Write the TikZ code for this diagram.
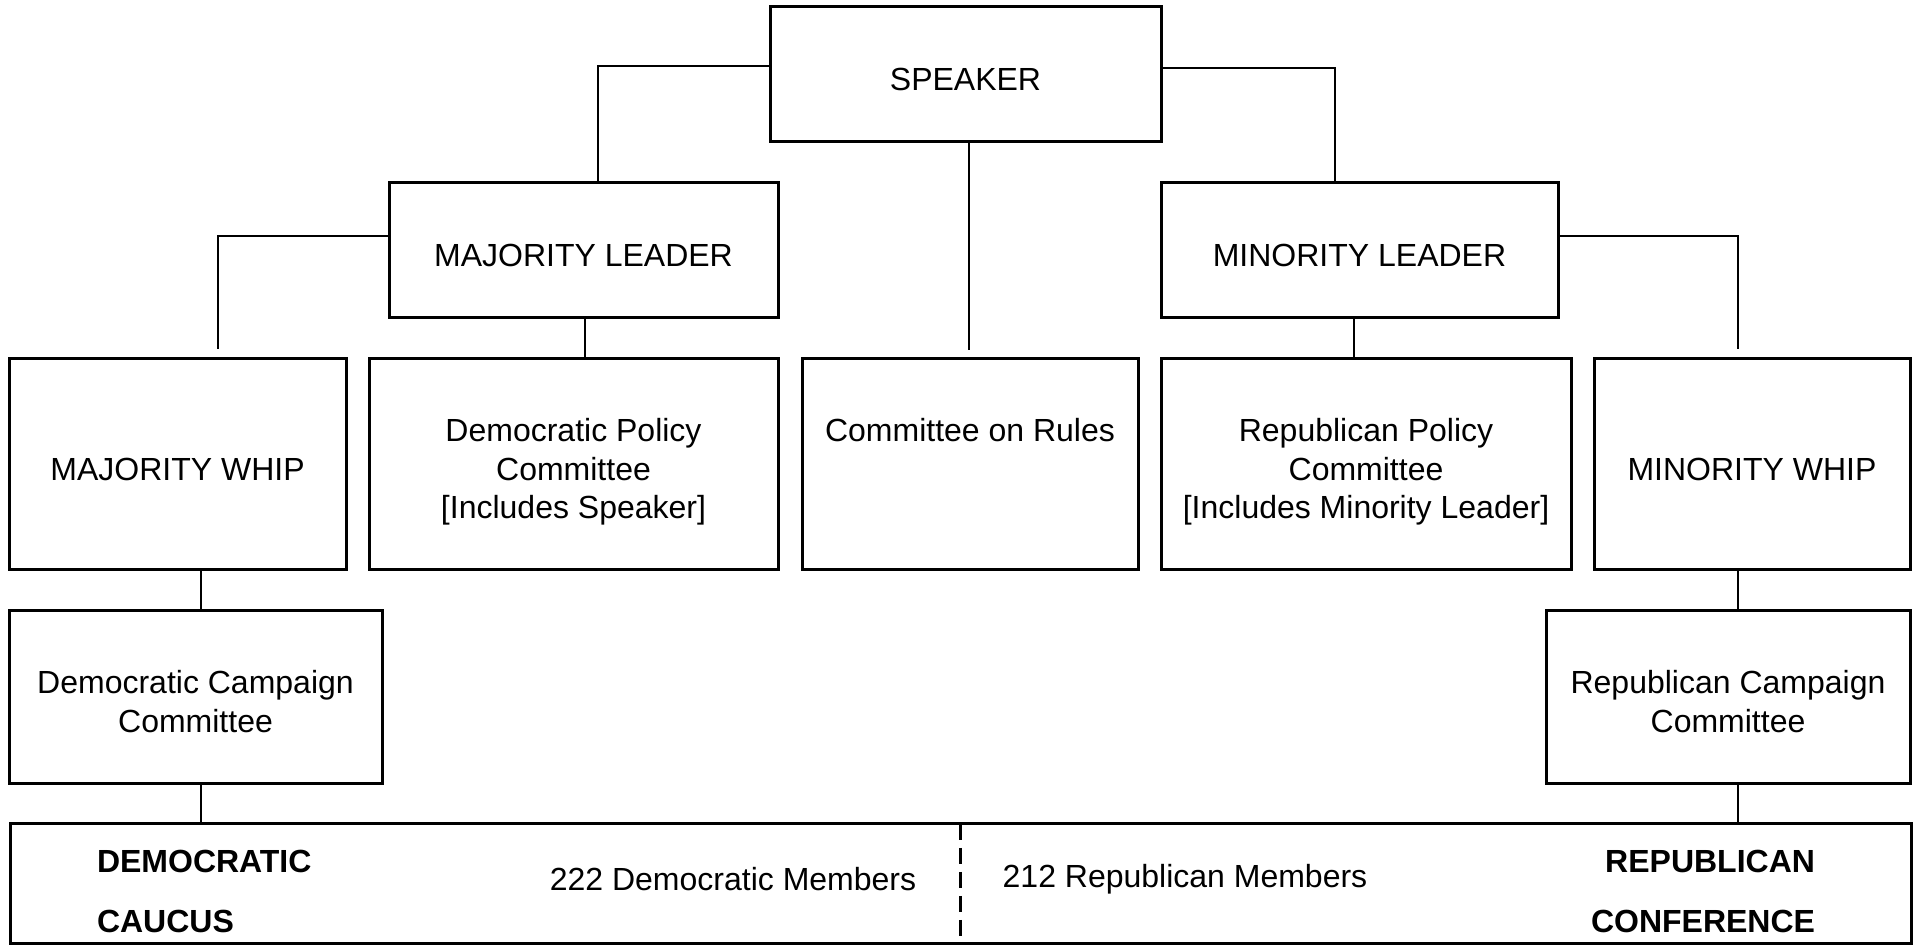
\documentclass[tikz,border=0pt]{standalone}
\usepackage{fontspec}
\setmainfont{Liberation Sans}
\newcommand\tprl{\rule{0pt}{41pt}}
\newcommand\btrl{\rule[-8pt]{0pt}{8pt}}
\begin{document}
\begin{tikzpicture}[x=1pt,y=-1pt,
  box/.style={draw, line width=3pt, inner sep=0pt, outer sep=0pt, align=center,
    font=\fontsize{32pt}{38.5pt}\selectfont},
  conn/.style={line width=2.8pt},
  lbl/.style={inner sep=0pt, outer sep=0pt, font=\fontsize{32pt}{38.5pt}\selectfont},
  blbl/.style={inner sep=0pt, outer sep=0pt, font=\fontsize{32pt}{38.5pt}\selectfont\bfseries}]
\useasboundingbox (0,0) rectangle (1919,945);
\fill[white] (0,0) rectangle (1919,945);

% top
\node[box, minimum width=391pt, minimum height=135pt] (speaker) at (965.5,73.5) {\tprl SPEAKER\btrl};
% leaders
\node[box, minimum width=389pt, minimum height=135pt] (majleader) at (583.5,249.5) {\tprl MAJORITY LEADER\btrl};
\node[box, minimum width=397pt, minimum height=135pt] (minleader) at (1359.5,249.5) {\tprl MINORITY LEADER\btrl};
% second row
\node[box, minimum width=337pt, minimum height=211pt] (majwhip) at (177.5,463.5) {\tprl MAJORITY WHIP\btrl};
\node[box, minimum width=409pt, minimum height=211pt] (dempol) at (573.5,463.5) {\tprl Democratic Policy\\Committee\\{}[Includes Speaker]\btrl};
\node[box, minimum width=336pt, minimum height=211pt] (rules) at (970,463.5) {\tprl Committee on Rules\\\mbox{}\\\mbox{}\btrl};
\node[box, minimum width=410pt, minimum height=211pt] (reppol) at (1366,463.5) {\tprl Republican Policy\\Committee\\{}[Includes Minority Leader]\btrl};
\node[box, minimum width=316pt, minimum height=211pt] (minwhip) at (1752,463.5) {\tprl MINORITY WHIP\btrl};
% campaign committees
\node[box, minimum width=373pt, minimum height=173pt] (demcamp) at (195.5,696.5) {\tprl Democratic Campaign\\Committee\btrl};
\node[box, minimum width=364pt, minimum height=173pt] (repcamp) at (1728,696.5) {\tprl Republican Campaign\\Committee\btrl};
% bottom box
\node[box, minimum width=1901pt, minimum height=119.5pt] (caucus) at (960.5,883.5) {};

\node[blbl, anchor=base west] (demA) at (97,872) {DEMOCRATIC};
\node[blbl, anchor=base west] (demB) at (97,932) {CAUCUS};
\node[lbl, anchor=base] (demN) at (733,890) {222 Democratic Members};
\node[lbl, anchor=base] (repN) at (1185,887) {212 Republican Members};
\node[blbl, anchor=base east] (repA) at (1815,872) {REPUBLICAN};
\node[blbl, anchor=base east] (repB) at (1815,932) {CONFERENCE};

% connectors
\draw[conn] ([yshift=7.5pt]speaker.west) -| ([xshift=14.5pt]majleader.north);
\draw[conn] ([yshift=5.5pt]speaker.east) -| ([xshift=-24.5pt]minleader.north);
\draw[conn] ([xshift=3.5pt]speaker.south) -- ([xshift=-1pt,yshift=8pt]rules.north);
\draw[conn] ([yshift=13.5pt]majleader.west) -| ([xshift=40.5pt,yshift=9pt]majwhip.north);
\draw[conn] ([xshift=1.5pt]majleader.south) -- ([xshift=11.5pt]dempol.north);
\draw[conn] ([yshift=13.5pt]minleader.east) -| ([xshift=-14pt,yshift=9pt]minwhip.north);
\draw[conn] ([xshift=-5.5pt]minleader.south) -- ([xshift=-12pt]reppol.north);
\draw[conn] ([xshift=23.5pt]majwhip.south) -- ([xshift=5.5pt]demcamp.north);
\draw[conn] ([xshift=-14pt]minwhip.south) -- ([xshift=10pt]repcamp.north);
\draw[conn] ([xshift=5.5pt]demcamp.south) -- ([xshift=5.5pt]demcamp.south |- caucus.north);
\draw[conn] ([xshift=10pt]repcamp.south) -- ([xshift=10pt]repcamp.south |- caucus.north);
\draw[line width=2.2pt, dash pattern=on 16pt off 8pt] (caucus.north) -- (caucus.south);
\end{tikzpicture}
\end{document}
